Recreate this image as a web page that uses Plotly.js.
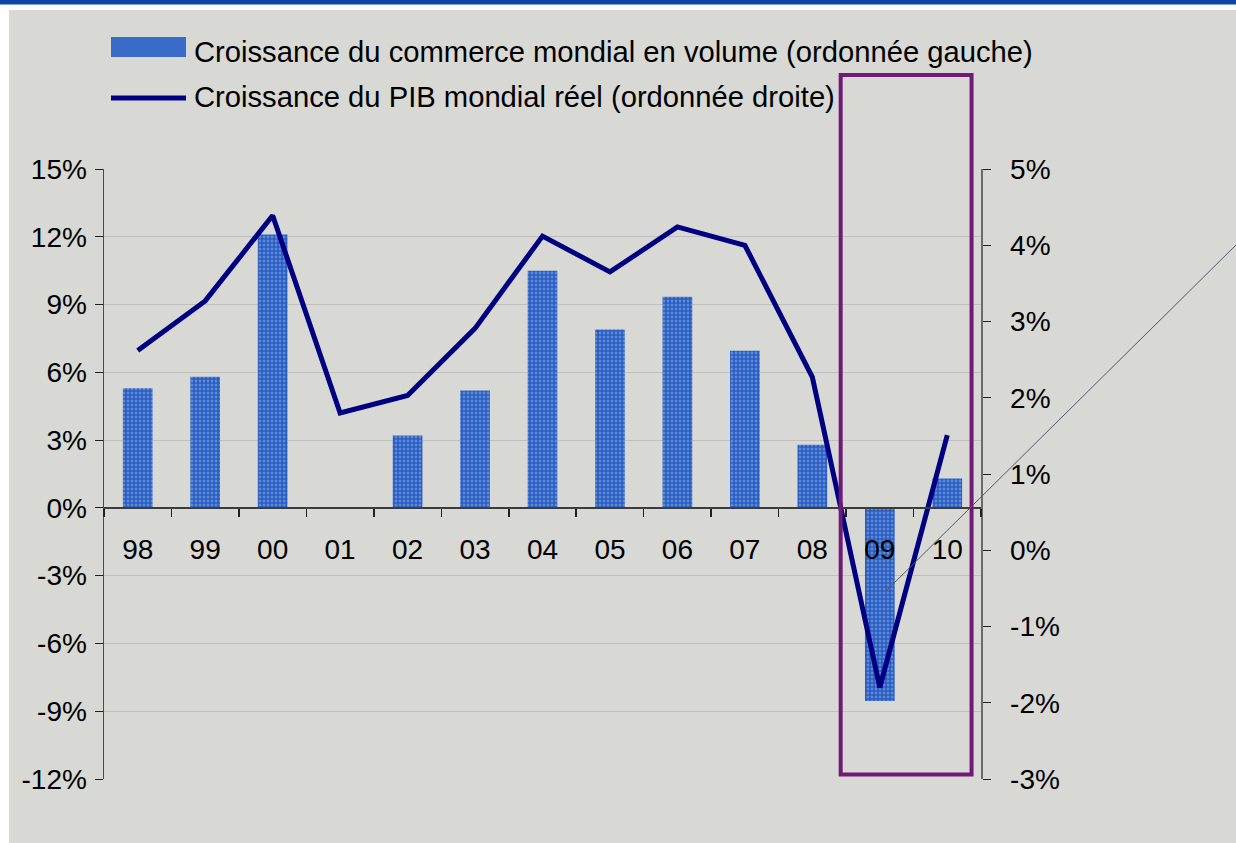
<!DOCTYPE html>
<html>
<head>
<meta charset="utf-8">
<script src="https://cdn.plot.ly/plotly-3.0.1.min.js"></script>
<style>
html, body { margin: 0; padding: 0; background: #ffffff; }
#chart { width: 1236px; height: 843px; }
</style>
</head>
<body>
<div id="chart"></div>
<script>
// Years (category labels)
const years = ['98','99','00','01','02','03','04','05','06','07','08','09','10'];
// World trade volume growth, % (left axis)
const tradeGrowth = [5.3, 5.8, 12.1, 0, 3.2, 5.2, 10.5, 7.9, 9.35, 6.95, 2.8, -8.55, 1.3];
// World real GDP growth, % (right axis)
const gdpGrowth = [2.62, 3.27, 4.39, 1.8, 2.03, 2.91, 4.12, 3.65, 4.24, 4.0, 2.27, -1.8, 1.51];

const legendTrade = 'Croissance du commerce mondial en volume (ordonnée gauche)';
const legendGdp = 'Croissance du PIB mondial réel (ordonnée droite)';

const FONT = 'Arial, "Liberation Sans", sans-serif';
const GRAY = '#d8d8d4';

const traces = [
  {
    type: 'bar',
    x: years,
    y: tradeGrowth,
    name: legendTrade,
    yaxis: 'y',
    width: 0.44,
    marker: {
      color: '#4a78cc',
      line: { width: 0 },
      pattern: { shape: '+', fgcolor: '#1650c0', bgcolor: '#6189d2', size: 4, solidity: 0.5 }
    },
    hoverinfo: 'x+y'
  },
  {
    type: 'scatter',
    mode: 'lines',
    x: years,
    y: gdpGrowth,
    name: legendGdp,
    yaxis: 'y2',
    line: { color: '#000080', width: 5 },
    hoverinfo: 'x+y'
  }
];

// pixel -> paper helpers (plot area: x 104..981, y 169..779)
const L = 104, R = 981, T = 169, B = 779;
const px = v => (v - L) / (R - L);
const py = v => (B - v) / (B - T);

const layout = {
  width: 1236,
  height: 843,
  margin: { l: L, r: 1236 - R, t: T, b: 843 - B, pad: 0 },
  paper_bgcolor: GRAY,
  plot_bgcolor: GRAY,
  showlegend: false,
  font: { family: FONT, size: 28, color: '#000000' },
  xaxis: {
    type: 'category',
    range: [-0.5, 12.5],
    anchor: 'free',
    position: py(507),
    showline: true,
    linecolor: '#3c3c3c',
    linewidth: 1.5,
    ticks: 'outside',
    tickson: 'boundaries',
    ticklen: 8,
    tickcolor: '#202020',
    tickwidth: 1.5,
    showgrid: false,
    zeroline: false,
    ticklabelstandoff: 17,
    tickfont: { family: FONT, size: 28, color: '#000000' }
  },
  yaxis: {
    range: [-12, 15],
    tickvals: [-12, -9, -6, -3, 0, 3, 6, 9, 12, 15],
    ticktext: ['-12%', '-9%', '-6%', '-3%', '0%', '3%', '6%', '9%', '12%', '15%'],
    showline: true,
    linecolor: '#4a4a4a',
    linewidth: 1.5,
    ticks: 'outside',
    ticklen: 8,
    tickcolor: '#202020',
    showgrid: true,
    gridcolor: '#bfbfbf',
    gridwidth: 1,
    zeroline: false,
    ticklabelstandoff: 2,
    tickfont: { family: FONT, size: 28, color: '#000000' }
  },
  yaxis2: {
    overlaying: 'y',
    side: 'right',
    range: [-3, 5],
    tickvals: [-3, -2, -1, 0, 1, 2, 3, 4, 5],
    ticktext: ['-3%', '-2%', '-1%', '0%', '1%', '2%', '3%', '4%', '5%'],
    showline: true,
    linecolor: '#6a6a6a',
    linewidth: 1.5,
    ticks: 'outside',
    ticklen: 8,
    tickcolor: '#202020',
    showgrid: false,
    zeroline: false,
    ticklabelstandoff: 14,
    tickfont: { family: FONT, size: 28, color: '#000000' }
  },
  shapes: [
    // white frame strips and blue top band
    { type: 'rect', xref: 'paper', yref: 'paper', x0: px(0), x1: px(1236), y0: py(10), y1: py(0), fillcolor: '#ffffff', line: { width: 0 }, layer: 'below' },
    { type: 'rect', xref: 'paper', yref: 'paper', x0: px(0), x1: px(9), y0: py(843), y1: py(0), fillcolor: '#ffffff', line: { width: 0 }, layer: 'below' },
    { type: 'rect', xref: 'paper', yref: 'paper', x0: px(0), x1: px(1236), y0: py(4.5), y1: py(0), fillcolor: '#0a46a8', line: { width: 0 }, layer: 'below' },
    // legend symbols
    { type: 'rect', xref: 'paper', yref: 'paper', x0: px(111), x1: px(186), y0: py(57), y1: py(37), fillcolor: '#3a6bc8', line: { width: 0 } },
    { type: 'line', xref: 'paper', yref: 'paper', x0: px(111), x1: px(186), y0: py(98), y1: py(98), line: { color: '#000080', width: 5 } },
    // highlight rectangle around 09-10
    { type: 'rect', xref: 'x', yref: 'paper', x0: 10.42, x1: 12.36, y0: py(774.5), y1: py(75), fillcolor: 'rgba(0,0,0,0)', line: { color: '#701a78', width: 4 }, layer: 'above' },
    // thin diagonal pointer line
    { type: 'line', xref: 'paper', yref: 'paper', x0: px(885), y0: py(592), x1: px(1236), y1: py(245), line: { color: '#4f5a66', width: 1 }, layer: 'above' }
  ],
  annotations: [
    { xref: 'paper', yref: 'paper', x: px(192), y: py(52), xanchor: 'left', yanchor: 'middle', text: legendTrade, showarrow: false, font: { family: FONT, size: 29.2, color: '#000000' } },
    { xref: 'paper', yref: 'paper', x: px(192), y: py(97), xanchor: 'left', yanchor: 'middle', text: legendGdp, showarrow: false, font: { family: FONT, size: 29.2, color: '#000000' } }
  ]
};

Plotly.newPlot('chart', traces, layout, { displayModeBar: false, staticPlot: true });
</script>
</body>
</html>
